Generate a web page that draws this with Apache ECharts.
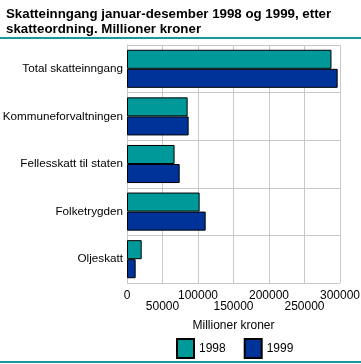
<!DOCTYPE html>
<html><head><meta charset="utf-8">
<script src="https://cdn.jsdelivr.net/npm/echarts@6/dist/echarts.min.js"></script>
<style>html,body{margin:0;padding:0;background:#fff}#c{width:361px;height:364px}</style>
</head><body><div id="c"></div>
<script>
const categories = ['Total skatteinngang','Kommuneforvaltningen','Fellesskatt til staten','Folketrygden','Oljeskatt'];
const values1998 = [288000, 85400, 67000, 102300, 20700];
const values1999 = [296700, 86800, 74200, 110800, 12200];
const seriesNames = ['1998','1999'];
const titleText = 'Skatteinngang januar-desember 1998 og 1999, etter\nskatteordning. Millioner kroner';
const axisName = 'Millioner kroner';

const chart = echarts.init(document.getElementById('c'));
const font = 'Liberation Sans, Arial, sans-serif';
const baseX = {type: 'value', min: 0, max: 300000, interval: 50000, position: 'bottom',
  axisLine: {show: false}, axisTick: {show: false}};
chart.setOption({
  animation: false,
  textStyle: {fontFamily: font},
  title: {text: titleText, left: 1, top: 2,
    textStyle: {fontFamily: font, fontSize: 13.3, fontWeight: 'bold', color: '#000', lineHeight: 15}},
  graphic: [
    {type: 'rect', shape: {x: 0, y: 37, width: 361, height: 2}, style: {fill: '#149a9a'}},
    {type: 'rect', shape: {x: 0, y: 361, width: 361, height: 2}, style: {fill: '#149a9a'}}
  ],
  grid: {left: 127, right: 21, top: 45, bottom: 81, containLabel: false, outerBoundsMode: 'none'},
  legend: {left: 171, top: 333, itemWidth: 17, itemHeight: 19, itemGap: 18, icon: 'rect',
    textStyle: {fontSize: 12, color: '#000', fontFamily: font},
    data: seriesNames},
  xAxis: [
    Object.assign({}, baseX, {
      name: axisName, nameLocation: 'middle', nameGap: 37,
      nameTextStyle: {fontSize: 12, color: '#000'},
      splitLine: {lineStyle: {color: '#c8c8c8', width: 1}},
      axisLabel: {color: '#000', fontSize: 12, margin: 7, interval: 0, hideOverlap: false,
        showMinLabel: true, showMaxLabel: true,
        formatter: (v) => (Math.round(v / 50000) % 2 ? '' : '' + v)}}),
    Object.assign({}, baseX, {
      splitLine: {show: false},
      axisLabel: {color: '#000', fontSize: 12, margin: 18, interval: 0, hideOverlap: false,
        showMinLabel: true, showMaxLabel: true,
        formatter: (v) => (Math.round(v / 50000) % 2 ? '' + v : '')}})
  ],
  yAxis: {type: 'category', data: categories, inverse: true,
    axisLine: {show: true, lineStyle: {color: '#c8c8c8'}}, axisTick: {show: false},
    splitLine: {show: true, lineStyle: {color: '#c8c8c8'}},
    axisLabel: {color: '#000', fontSize: 11.7, margin: 4}},
  series: [
    {name: seriesNames[0], type: 'bar', data: values1998, barGap: '0%', barCategoryGap: '20%',
      itemStyle: {color: '#009999', borderColor: '#000', borderWidth: 1}},
    {name: seriesNames[1], type: 'bar', data: values1999, barGap: '0%', barCategoryGap: '20%',
      itemStyle: {color: '#003399', borderColor: '#000', borderWidth: 1}}
  ]
});
</script></body></html>
